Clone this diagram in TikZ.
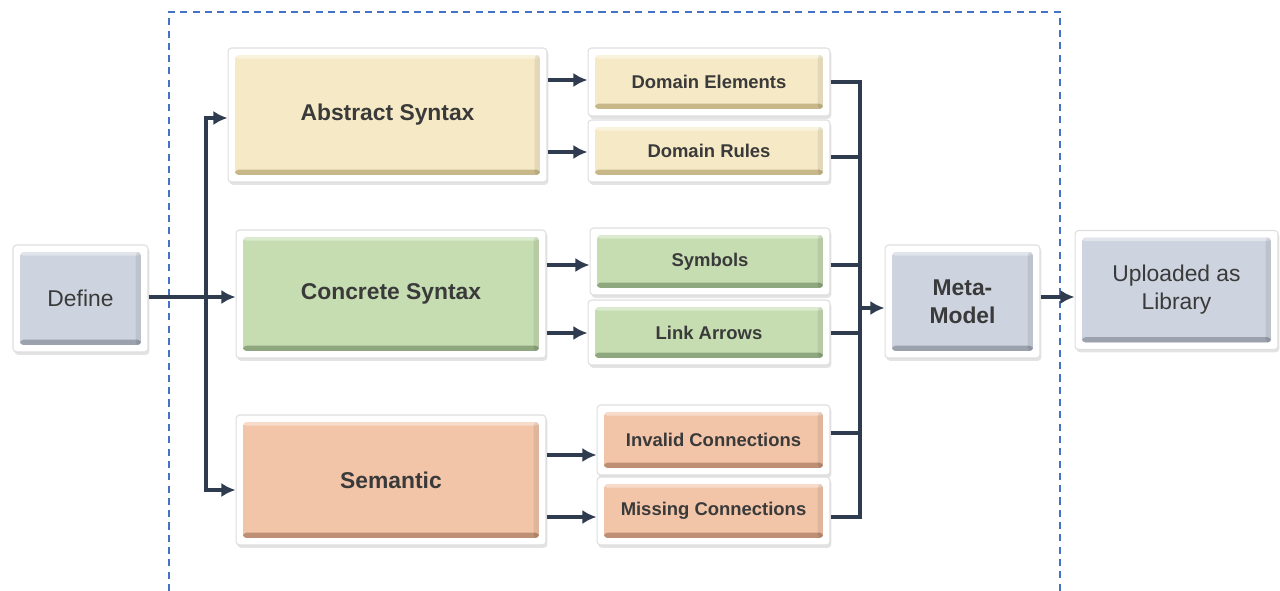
\documentclass[tikz,border=0pt]{standalone}
\usepackage{fontspec}
\setmainfont{Liberation Sans}
\usepackage{tikz}
\usetikzlibrary{arrows.meta}
\usetikzlibrary{calc,shadows}

\definecolor{greyfill}{HTML}{CDD4DF}
\definecolor{greyband}{HTML}{9BA2AE}
\definecolor{absfill}{HTML}{F6EAC6}
\definecolor{absband}{HTML}{C8B789}
\definecolor{confill}{HTML}{C6DDB2}
\definecolor{conband}{HTML}{8FA77E}
\definecolor{semfill}{HTML}{F2C5A9}
\definecolor{semband}{HTML}{BE8F74}
\definecolor{wire}{HTML}{2F3B4F}
\definecolor{frameblue}{HTML}{4472C4}
\definecolor{txt}{HTML}{3A3A3A}

\begin{document}
\begin{tikzpicture}[x=0.02cm,y=-0.02cm,
  panel/.style 2 args={fill=white, draw=black!13, line width=.6pt,
    rounded corners=2pt, inner sep=0pt, align=center, text=txt,
    drop shadow={opacity=.22, shadow xshift=.8pt, shadow yshift=-1.6pt},
    path picture={
      \fill[#1] ([shift={(4pt,-4pt)}]path picture bounding box.north west)
        rectangle ([shift={(-4pt,4pt)}]path picture bounding box.south east);
      \fill[#2] ([shift={(4pt,4pt)}]path picture bounding box.south west)
        rectangle ([shift={(-4pt,7pt)}]path picture bounding box.south east);
      \fill[white,opacity=.4] ([shift={(4pt,-4pt)}]path picture bounding box.north west)
        rectangle ([shift={(-4pt,-6pt)}]path picture bounding box.north east);
      \fill[black,opacity=.08] ([shift={(-7pt,-4pt)}]path picture bounding box.north east)
        rectangle ([shift={(-4pt,4pt)}]path picture bounding box.south east);}},
  big/.style={font=\fontsize{13}{16}\selectfont\bfseries},
  small/.style={font=\fontsize{10.5}{13}\selectfont\bfseries},
  plain/.style={font=\fontsize{13}{16}\selectfont},
  wireline/.style={draw=wire, line width=2pt},
  arr/.style={wireline, -{Latex[length=8pt,width=8pt]}}]
\useasboundingbox (0,0) rectangle (1280,591);

\draw[frameblue, line width=1.1pt, dash pattern=on 4pt off 3pt]
  (169,591) -- (169,12) -- (1060,12) -- (1060,591);

\node[panel={greyfill}{greyband}, plain, minimum width=2.7cm, minimum height=2.14cm] (def) at (80.5,298.5) {Define};

\node[panel={absfill}{absband}, big, minimum width=6.38cm, minimum height=2.68cm] (abs) at (387.5,115) {Abstract Syntax};
\node[panel={confill}{conband}, big, minimum width=6.2cm, minimum height=2.56cm] (con) at (391,294) {Concrete Syntax};
\node[panel={semfill}{semband}, big, minimum width=6.2cm, minimum height=2.6cm] (sem) at (391,480) {Semantic};

\node[panel={absfill}{absband}, small, minimum width=4.84cm, minimum height=1.36cm] (elem) at (709,82) {Domain Elements};
\node[panel={absfill}{absband}, small, minimum width=4.84cm, minimum height=1.24cm] (rules) at (709,151) {Domain Rules};
\node[panel={confill}{conband}, small, minimum width=4.8cm, minimum height=1.34cm] (sym) at (710,261.5) {Symbols};
\node[panel={confill}{conband}, small, minimum width=4.84cm, minimum height=1.3cm] (link) at (709,332.5) {Link Arrows};
\node[panel={semfill}{semband}, small, minimum width=4.66cm, minimum height=1.4cm] (inval) at (713.5,440) {Invalid Connections};
\node[panel={semfill}{semband}, small, minimum width=4.66cm, minimum height=1.36cm] (miss) at (713.5,511) {Missing Connections};

\node[panel={greyfill}{greyband}, big, minimum width=3.1cm, minimum height=2.26cm] (meta) at (962.5,301.5) {Meta-\\Model};
\node[panel={greyfill}{greyband}, plain, minimum width=4.06cm, minimum height=2.38cm] (lib) at (1176.5,290) {Uploaded as\\Library};

\coordinate (split) at (206,297);
\coordinate (bus) at (860,308);

\draw[arr] (def.east |- split) -- (split -| con.west);
\draw[arr] (split) -- (206,118) -- (abs.west |- 0,118);
\draw[arr] (split) -- (206,490) -- (sem.west |- 0,490);

\draw[arr] (abs.east |- 0,80) -- (elem.west |- 0,80);
\draw[arr] (abs.east |- 0,152) -- (rules.west |- 0,152);
\draw[arr] (con.east |- 0,265) -- (sym.west |- 0,265);
\draw[arr] (con.east |- 0,333) -- (link.west |- 0,333);
\draw[arr] (sem.east |- 0,455) -- (inval.west |- 0,455);
\draw[arr] (sem.east |- 0,517) -- (miss.west |- 0,517);

\draw[wireline] (elem.east) -- (elem.east -| bus) -- (bus |- 0,517) -- (miss.east |- 0,517);
\draw[wireline] (rules.east |- 0,157) -- (bus |- 0,157);
\draw[wireline] (sym.east |- 0,265) -- (bus |- 0,265);
\draw[wireline] (link.east |- 0,333) -- (bus |- 0,333);
\draw[wireline] (inval.east |- 0,433) -- (bus |- 0,433);

\draw[arr] (bus) -- (bus -| meta.west);
\draw[arr] (meta.east |- 0,297) -- (lib.west |- 0,297);
\end{tikzpicture}
\end{document}
